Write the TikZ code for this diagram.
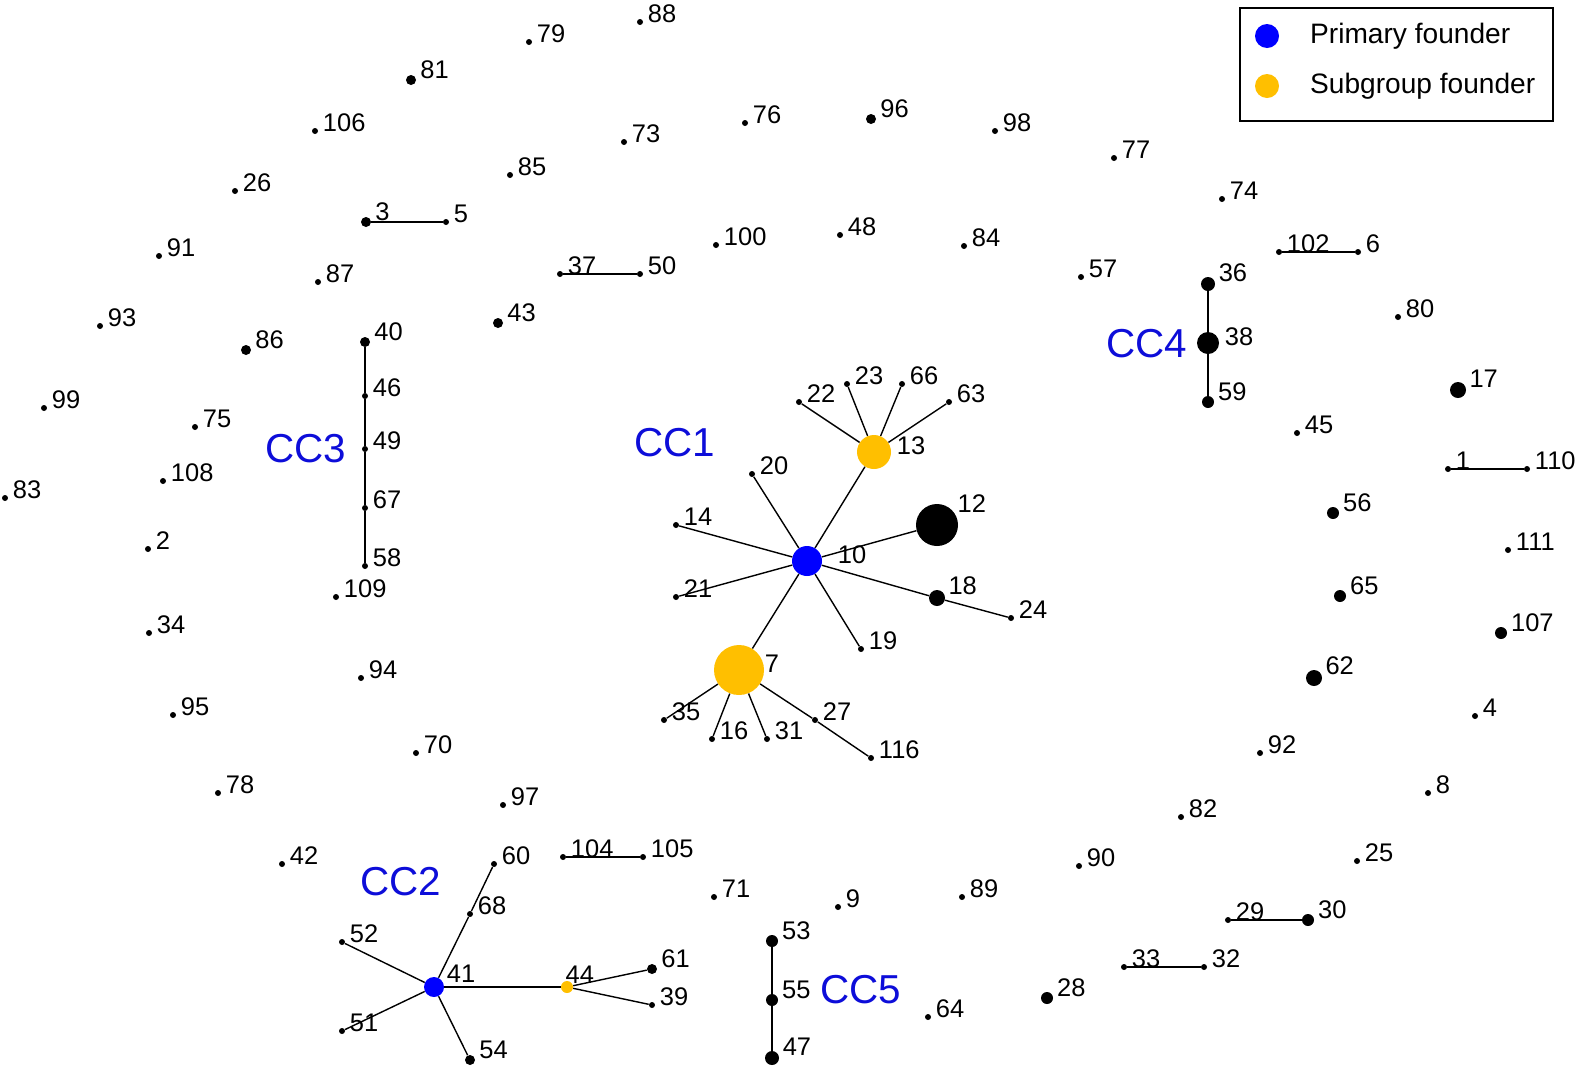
\documentclass[tikz,border=0pt]{standalone}
\usepackage{fontspec}
\setmainfont{Liberation Sans}
\usetikzlibrary{positioning}
\definecolor{clrPrim}{rgb}{0,0,1}
\definecolor{clrSub}{rgb}{1,0.75,0}
\definecolor{clrCC}{rgb}{0.05,0.05,0.85}
\tikzstyle{dot}=[circle, fill=black, draw=none, inner sep=0pt]
\tikzstyle{lbl}=[anchor=south west, inner sep=1pt, xshift=0.07cm, yshift=-0.1cm, font=\fontsize{14.5}{16}\selectfont]
\tikzstyle{cclbl}=[text=clrCC, font=\fontsize{23}{26}\selectfont]
\tikzstyle{link}=[line width=0.8pt]
\begin{document}
\begin{tikzpicture}[x=0.02cm, y=-0.02cm]
		\useasboundingbox (0,0) rectangle (1575,1073);

		% isolated and linked points
		\foreach \n/\px/\py/\r in {79/529/42/3, 88/640/22/3, 81/411/80/5, 106/315/131/3, 26/235/191/3,
			91/159/256/3, 93/100/326/3, 99/44/408/3, 83/5/498/3, 108/163/481/3, 2/148/549/3,
			34/149/633/3, 95/173/715/3, 78/218/793/3, 42/282/864/3, 75/195/427/3, 86/246/350/5,
			87/318/282/3, 3/366/222/5, 5/446/222/3, 85/510/175/3, 73/624/142/3, 76/745/123/3,
			96/871/119/5, 98/995/131/3, 77/1114/158/3, 74/1222/199/3, 100/716/245/3, 48/840/235/3,
			84/964/246/3, 57/1081/277/3, 37/560/274/3, 50/640/274/3, 43/498/323/5,
			40/365/342/5, 46/365/396/3, 49/365/449/3, 67/365/508/3, 58/365/566/3,
			109/336/597/3, 94/361/678/3, 70/416/753/3, 97/503/805/3, 104/563/857/3, 105/643/857/3,
			60/494/864/3, 68/470/914/3, 52/342/942/3, 51/342/1031/3, 54/470/1060/5,
			61/652/969/5, 39/652/1005/3, 71/714/897/3, 9/838/907/3, 53/772/941/6, 55/772/1000/6,
			47/772/1058/7, 64/928/1017/3, 89/962/897/3, 28/1047/998/6, 90/1079/866/3,
			33/1124/967/3, 32/1204/967/3, 29/1228/920/3, 30/1308/920/6, 82/1181/817/3,
			92/1260/753/3, 25/1357/861/3, 8/1428/793/3, 4/1475/716/3, 62/1314/678/8,
			107/1501/633/6, 65/1340/596/6, 111/1508/550/3, 56/1333/513/6, 1/1448/469/3,
			110/1527/469/3, 45/1297/433/3, 17/1458/390/8, 80/1398/317/3, 102/1279/252/3,
			6/1358/252/3, 36/1208/284/7, 59/1208/402/6,
			22/799/402/3, 23/847/384/3, 66/902/384/3, 63/949/402/3, 20/752/474/3,
			14/676/525/3, 21/676/597/3, 12/937/525/21, 18/937/598/8, 24/1011/618/3,
			19/861/649/3, 35/664/720/3, 16/712/739/3, 31/767/739/3, 27/815/720/3, 116/871/758/3}
			\node[dot, minimum size=0.04cm*\r, label={[lbl]north east:\n}] (n\n) at (\px,\py) {};
		\node[dot, minimum size=0.44cm, label={[lbl]east:38}] (n38) at (1208,343) {};

		% founders
		\node[dot, fill=clrPrim, minimum size=0.6cm, label={[lbl, xshift=0.2cm]east:10}] (n10) at (807,561) {};
		\node[dot, fill=clrSub, minimum size=0.68cm, label={[lbl]east:13}] (n13) at (874,452) {};
		\node[dot, fill=clrSub, minimum size=1cm, label={[lbl, xshift=-0.1cm]east:7}] (n7) at (739,670) {};
		\node[dot, fill=clrPrim, minimum size=0.4cm, label={[lbl]north east:41}] (n41) at (434,987) {};
		\node[dot, fill=clrSub, minimum size=0.24cm, label={[lbl, xshift=-0.14cm]north:44}] (n44) at (567,987) {};

		% connectors
		\foreach \a/\b in {10/13, 10/12, 10/14, 10/21, 10/20, 10/18, 10/19, 10/7, 18/24,
			13/22, 13/23, 13/66, 13/63, 7/35, 7/16, 7/31, 7/27, 27/116,
			41/52, 41/51, 41/54, 41/68, 68/60, 41/44, 44/61, 44/39,
			40/46, 46/49, 49/67, 67/58, 36/38, 38/59, 53/55, 55/47,
			3/5, 37/50, 102/6, 1/110, 104/105, 29/30, 33/32}
			\draw[link] (n\a) -- (n\b);

		% cluster names
		\node[cclbl] (cc1) at (675,443) {CC1};
		\node[cclbl] (cc2) at (401,882) {CC2};
		\node[cclbl] (cc3) at (306,449) {CC3};
		\node[cclbl] (cc4) at (1147,344) {CC4};
		\node[cclbl] (cc5) at (861,990) {CC5};

		% legend
		\draw[line width=0.8pt] (1240,8) rectangle (1553,121);
		\node[dot, fill=clrPrim, minimum size=0.48cm] (lgA) at (1267,36) {};
		\node[anchor=west, font=\fontsize{16}{19}\selectfont] at (1304,36) {Primary founder};
		\node[dot, fill=clrSub, minimum size=0.48cm] (lgB) at (1267,86) {};
		\node[anchor=west, font=\fontsize{16}{19}\selectfont] at (1304,86) {Subgroup founder};
	\end{tikzpicture}
\end{document}
